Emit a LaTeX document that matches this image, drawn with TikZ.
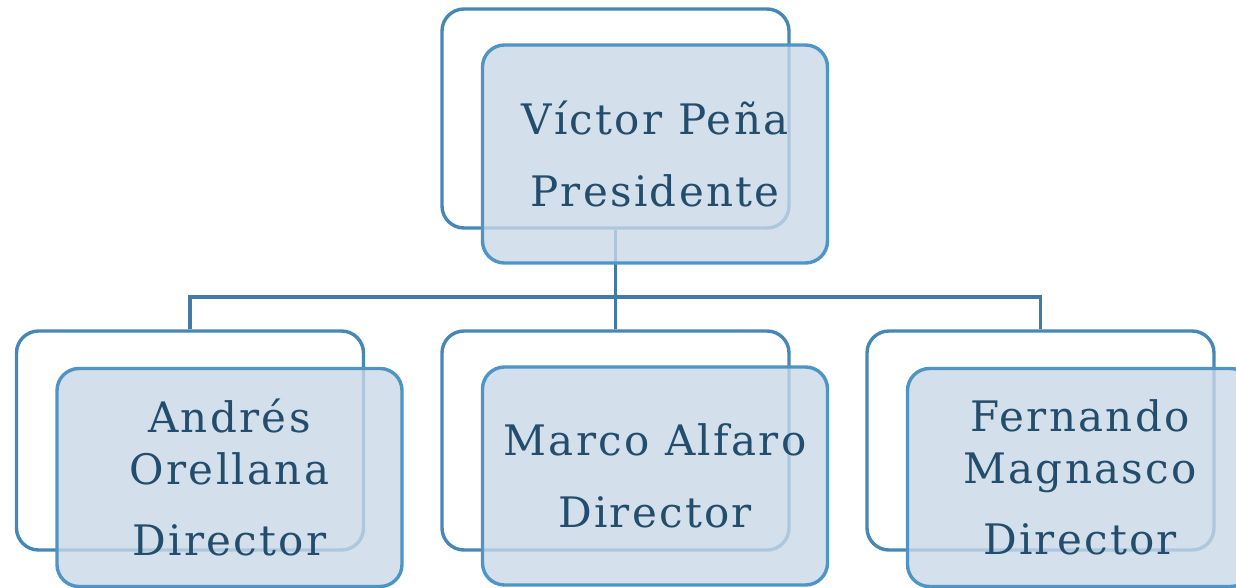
\documentclass[tikz,border=0pt]{standalone}
\usepackage{fontspec}
\setmainfont{DejaVu Serif}[LetterSpace=5.5]
\definecolor{backline}{HTML}{4787B5}
\definecolor{lineblue}{HTML}{4E95C5}
\definecolor{connblue}{HTML}{3F7BA6}
\definecolor{boxfill}{HTML}{C9D8E7}
\definecolor{txtblue}{HTML}{234D6C}
\begin{document}
\begin{tikzpicture}[x=1pt,y=-1pt,
  backbox/.style={draw=backline, line width=3.4pt, rounded corners=22pt, fill=white,
    minimum width=347pt, minimum height=219pt, inner sep=0pt},
  frontbox/.style={draw=lineblue, line width=3.4pt, rounded corners=22pt, fill=boxfill,
    fill opacity=0.8, text opacity=1, draw opacity=1,
    minimum width=345pt, minimum height=218pt, inner sep=0pt,
    text=txtblue, align=center, font=\fontsize{42}{52}\selectfont},
  conn/.style={draw=connblue, line width=3.2pt}]
\useasboundingbox (0,0) rectangle (1236,588);
\node[backbox] (tb) at (615.5,118.5) {};
\node[backbox] (lb) at (190,440.5) {};
\node[backbox] (mb) at (615.5,440.5) {};
\node[backbox] (rb) at (1040.5,440.5) {};
\coordinate (bus) at (615.5,297);
\draw[conn] (tb.south) -- (bus);
\draw[conn] (bus) -| (lb.north);
\draw[conn] (bus) -- (mb.north);
\draw[conn] (bus) -| (rb.north);
\node[frontbox] (tf) at (655,154) {Víctor Peña\\[20pt]Presidente};
\node[frontbox] (lf) at (229.5,477.5) {Andrés\\Orellana\\[19pt]Director};
\node[frontbox] (mf) at (655,476) {Marco Alfaro\\[20pt]Director};
\node[frontbox] (rf) at (1080,477.5) {Fernando\\Magnasco\\[19pt]Director};
\end{tikzpicture}
\end{document}
